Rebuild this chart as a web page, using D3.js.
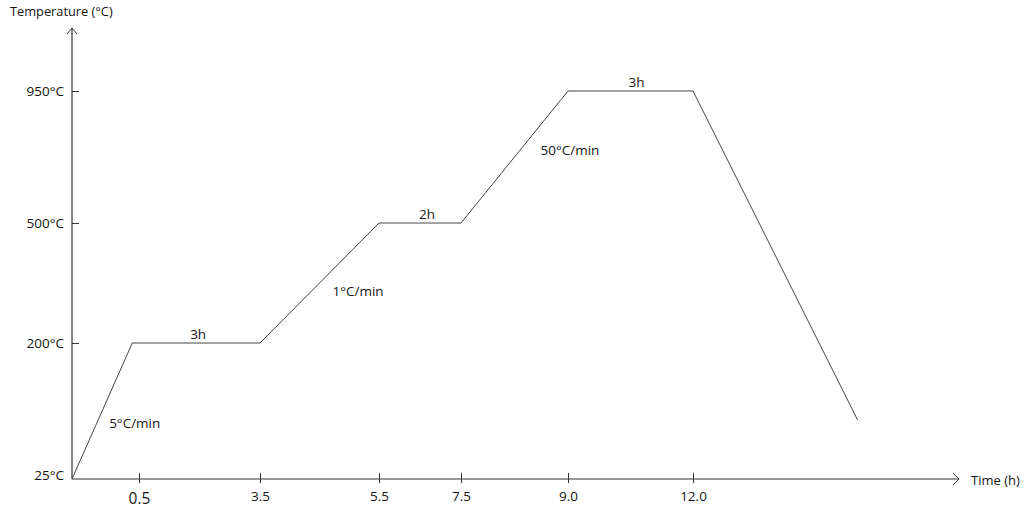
<!DOCTYPE html>
<html>
<head>
<meta charset="utf-8">
<script src="https://cdn.jsdelivr.net/npm/d3@7"></script>
<style>
  html, body { margin: 0; padding: 0; background: #fff; }
  svg { display: block; font-family: "Open Sans", "Noto Sans", sans-serif; }
  text { fill: #151515; }
</style>
</head>
<body>
<svg id="chart" width="1035" height="509"></svg>
<script>
// Firing schedule: time (h) and temperature (°C) at each corner of the profile
const times = [0, 0.45, 3.5, 5.5, 7.5, 9.0, 12.0, 15.95];
const temps = [25, 200, 200, 500, 500, 950, 950, 101];

// Axis tick values and labels
const timeTicks = [0.5, 3.5, 5.5, 7.5, 9.0, 12.0];
const timeTickLabels = ["0.5", "3.5", "5.5", "7.5", "9.0", "12.0"];
const tempTicks = [25, 200, 500, 950];
const tempTickLabels = ["25°C", "200°C", "500°C", "950°C"];

// Segment annotations: rates on the ramps, hold times on the plateaus
const rampLabels = ["5°C/min", "1°C/min", "50°C/min"];
const rampSegments = [0, 2, 4];
const holdLabels = ["3h", "2h", "3h"];
const holdSegments = [1, 3, 5];

const svg = d3.select("#chart");

// The schedule is drawn on a stretched, piecewise time axis and temperature axis
const x = d3.scaleLinear()
  .domain([0, 0.5, 3.5, 5.5, 7.5, 9.0, 12.0])
  .range([72, 139, 260, 379, 461, 568, 693]);
const y = d3.scaleLinear()
  .domain([25, 200, 500, 950])
  .range([479, 343, 223, 91]);

const axisColor = "#333";
const x0 = x(0), y0 = y(25);

// Axis lines with open arrowheads
svg.append("line").attr("x1", x0).attr("y1", y0).attr("x2", x0).attr("y2", 28)
  .attr("stroke", axisColor).attr("stroke-width", 1.2);
svg.append("path").attr("d", `M${x0 - 5},${34} L${x0},${28} L${x0 + 5},${34}`)
  .attr("fill", "none").attr("stroke", axisColor).attr("stroke-width", 1);
svg.append("line").attr("x1", x0).attr("y1", y0).attr("x2", 959).attr("y2", y0)
  .attr("stroke", axisColor).attr("stroke-width", 1.2);
svg.append("path").attr("d", `M${953},${y0 - 6} L${959},${y0} L${953},${y0 + 6}`)
  .attr("fill", "none").attr("stroke", axisColor).attr("stroke-width", 1);

// Bottom axis ticks
const xAxis = svg.append("g").attr("transform", `translate(0,${y0})`)
  .call(d3.axisBottom(x).tickValues(timeTicks)
    .tickFormat((d, i) => timeTickLabels[i]).tickSizeInner(4).tickSizeOuter(0).tickPadding(8));
xAxis.select(".domain").remove();
xAxis.selectAll(".tick line").attr("y1", -6).attr("stroke", axisColor);
xAxis.selectAll(".tick text").attr("fill", "#151515")
  .attr("font-family", "'Open Sans', sans-serif")
  .attr("font-size", d => d === 0.5 ? 15.5 : 13.5)
  .attr("y", d => d === 0.5 ? 14 : 12);

// Left axis ticks (crossing the axis line)
const yAxis = svg.append("g").attr("transform", `translate(${x0},0)`)
  .call(d3.axisLeft(y).tickValues(tempTicks)
    .tickFormat((d, i) => tempTickLabels[i]).tickSizeInner(6).tickSizeOuter(0).tickPadding(3));
yAxis.select(".domain").remove();
yAxis.selectAll(".tick line").attr("x2", 7).attr("stroke", axisColor)
  .attr("display", d => d === 25 ? "none" : null);
yAxis.selectAll(".tick text").attr("font-size", 13.5).attr("fill", "#151515")
  .attr("font-family", "'Open Sans', sans-serif")
  .attr("x", -8)
  .attr("dy", d => d === 25 ? "0em" : "0.32em");

// Axis titles
svg.append("text").attr("x", 10).attr("y", 16).attr("font-size", 12.8).text("Temperature (°C)");
svg.append("text").attr("x", 971).attr("y", 485).attr("font-size", 13).text("Time (h)");

// Profile line
const pts = times.map((t, i) => [t, temps[i]]);
svg.append("path").datum(pts)
  .attr("d", d3.line().x(d => x(d[0])).y(d => y(d[1])))
  .attr("fill", "none").attr("stroke", "#444").attr("stroke-width", 1);

// Ramp rate labels, placed beside the ramp midpoints
const rampOffsets = [[7, 17], [13, 13], [26, -2]];
rampLabels.forEach((lab, i) => {
  const s = rampSegments[i];
  const mx = (x(times[s]) + x(times[s + 1])) / 2;
  const my = (y(temps[s]) + y(temps[s + 1])) / 2;
  svg.append("text").attr("x", mx + rampOffsets[i][0]).attr("y", my + rampOffsets[i][1])
    .attr("font-size", 13.5).text(lab);
});

// Hold time labels above the plateaus
const holdOffsets = [2, 7, 6];
holdLabels.forEach((lab, i) => {
  const s = holdSegments[i];
  const mx = (x(times[s]) + x(times[s + 1])) / 2;
  svg.append("text").attr("x", mx + holdOffsets[i]).attr("y", y(temps[s]) - 4)
    .attr("text-anchor", "middle").attr("font-size", 13.5).text(lab);
});
</script>
</body>
</html>
